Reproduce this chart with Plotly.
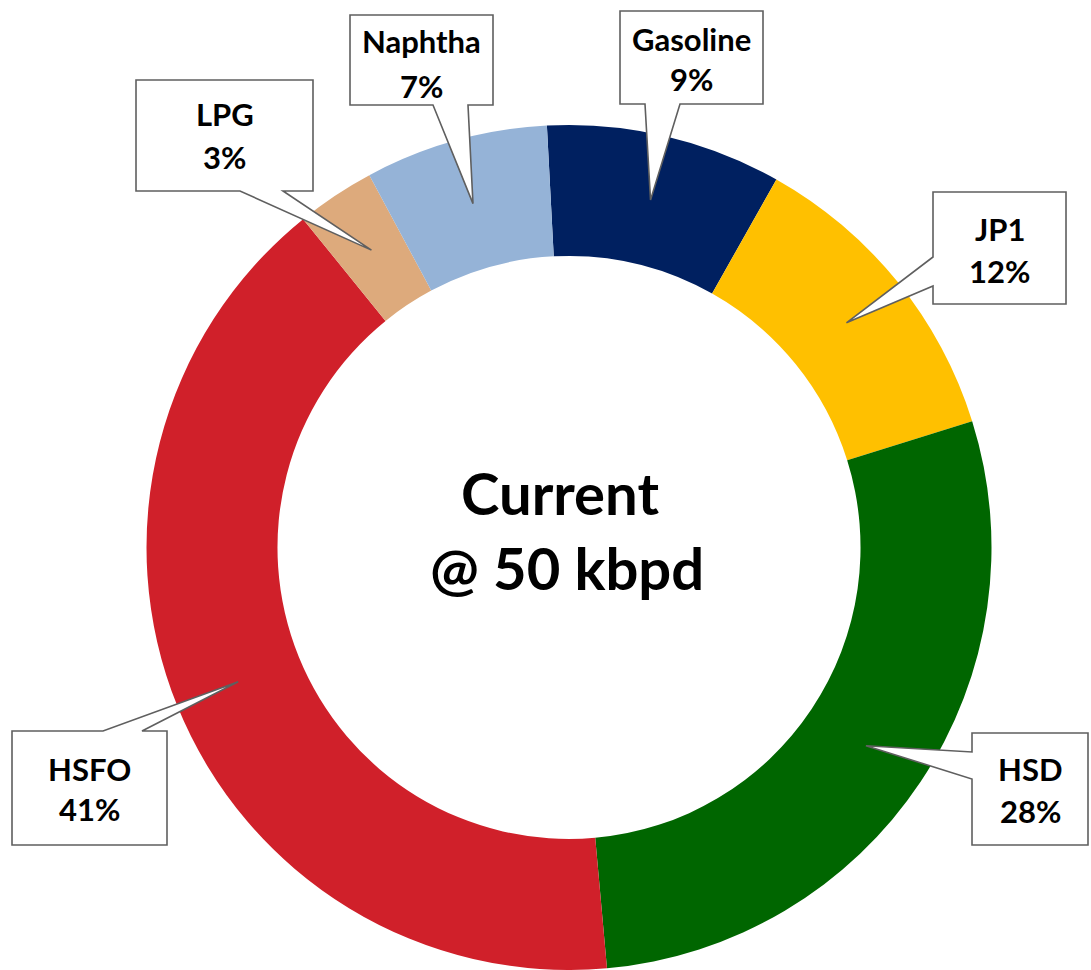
import math
import plotly.graph_objects as go

# ---------------- data ----------------
categories = ["Gasoline", "JP1", "HSD", "HSFO", "LPG", "Naphtha"]
shares = [9.0, 12.0, 28.4, 40.6, 3.0, 7.0]
colors = ["#002060", "#FFC000", "#006600", "#D0202A", "#DDAA7C", "#95B3D7"]
center_lines = ["Current", "@ 50 kbpd"]

# ---------------- layout constants (pixels) ----------------
W, H = 1091, 970
PIE_LEFT, PIE_RIGHT, PIE_TOP = 146, 992, 125
HOLE = 0.69
ROTATION = -3
FONT = "Lato"
BORDER = "#5f5f5f"

# callout boxes: x0, y0, x1, y1, side of pointer, pointer base (a, b)
boxes = {
    "LPG":      (136, 80, 313, 191, "bottom", 240, 283),
    "Naphtha":  (350, 15, 493, 105, "bottom", 433, 468),
    "Gasoline": (620, 11, 763, 104, "bottom", 645, 680),
    "JP1":      (933, 192, 1066, 304, "left", 257, 286),
    "HSD":      (972, 733, 1088, 845, "left", 752, 779),
    "HSFO":     (12, 731, 167, 845, "top", 103, 142),
}
# text line vertical centres (name, percent)
text_rows = {
    "LPG": (114, 157),
    "Naphtha": (41, 86),
    "Gasoline": (39, 79),
    "JP1": (229, 271),
    "HSD": (769, 811),
    "HSFO": (769, 809),
}
center_pos = [(560, 492), (567, 567)]


def px(x):
    return x / W


def py(y):
    return 1 - y / H


pie_h = H - PIE_TOP
fig = go.Figure(go.Pie(
    labels=categories,
    values=shares,
    marker=dict(colors=colors, line=dict(width=0)),
    hole=HOLE,
    sort=False,
    direction="clockwise",
    rotation=ROTATION,
    textinfo="none",
    hoverinfo="label+percent",
    showlegend=False,
    domain=dict(x=[px(PIE_LEFT), px(PIE_RIGHT)], y=[0, py(PIE_TOP)]),
))

# geometry of the ring in pixels
R = min(PIE_RIGHT - PIE_LEFT, pie_h) / 2
cx = (PIE_LEFT + PIE_RIGHT) / 2
cy = PIE_TOP + pie_h / 2
r_mid = R * (1 + HOLE) / 2
total = sum(shares)

shapes = []
annotations = []
start = ROTATION
for name, val in zip(categories, shares):
    span = val / total * 360
    mid = math.radians(start + span / 2)
    start += span
    tx = cx + r_mid * math.sin(mid)
    ty = cy - r_mid * math.cos(mid)
    x0, y0, x1, y1, side, a, b = boxes[name]
    if side == "bottom":
        pts = [(x0, y0), (x1, y0), (x1, y1), (b, y1), (tx, ty), (a, y1), (x0, y1)]
    elif side == "left":
        pts = [(x0, y0), (x1, y0), (x1, y1), (x0, y1), (x0, b), (tx, ty), (x0, a)]
    else:  # top
        pts = [(x0, y0), (a, y0), (tx, ty), (b, y0), (x1, y0), (x1, y1), (x0, y1)]
    path = "M " + " L ".join(f"{px(x):.5f},{py(y):.5f}" for x, y in pts) + " Z"
    shapes.append(dict(type="path", xref="paper", yref="paper", path=path,
                       fillcolor="white", line=dict(color=BORDER, width=1.6),
                       layer="above"))
    xc = (x0 + x1) / 2
    r1, r2 = text_rows[name]
    for txt, yy in ((name, r1), (f"{round(val)}%", r2)):
        annotations.append(dict(
            text=txt, x=px(xc), y=py(yy), xref="paper", yref="paper",
            xanchor="center", yanchor="middle", showarrow=False,
            font=dict(family=FONT, size=31, color="black", weight="bold"),
        ))

for txt, (xx, yy) in zip(center_lines, center_pos):
    annotations.append(dict(
        text=txt, x=px(xx), y=py(yy), xref="paper", yref="paper",
        xanchor="center", yanchor="middle", showarrow=False,
        font=dict(family=FONT, size=58, color="black", weight="bold"),
    ))

fig.update_layout(
    width=W, height=H, autosize=False,
    margin=dict(l=0, r=0, t=0, b=0),
    paper_bgcolor="white", plot_bgcolor="white",
    shapes=shapes, annotations=annotations,
)

fig.write_html("out.html", config={"displayModeBar": False},
               post_script="document.body.style.margin='0';")
